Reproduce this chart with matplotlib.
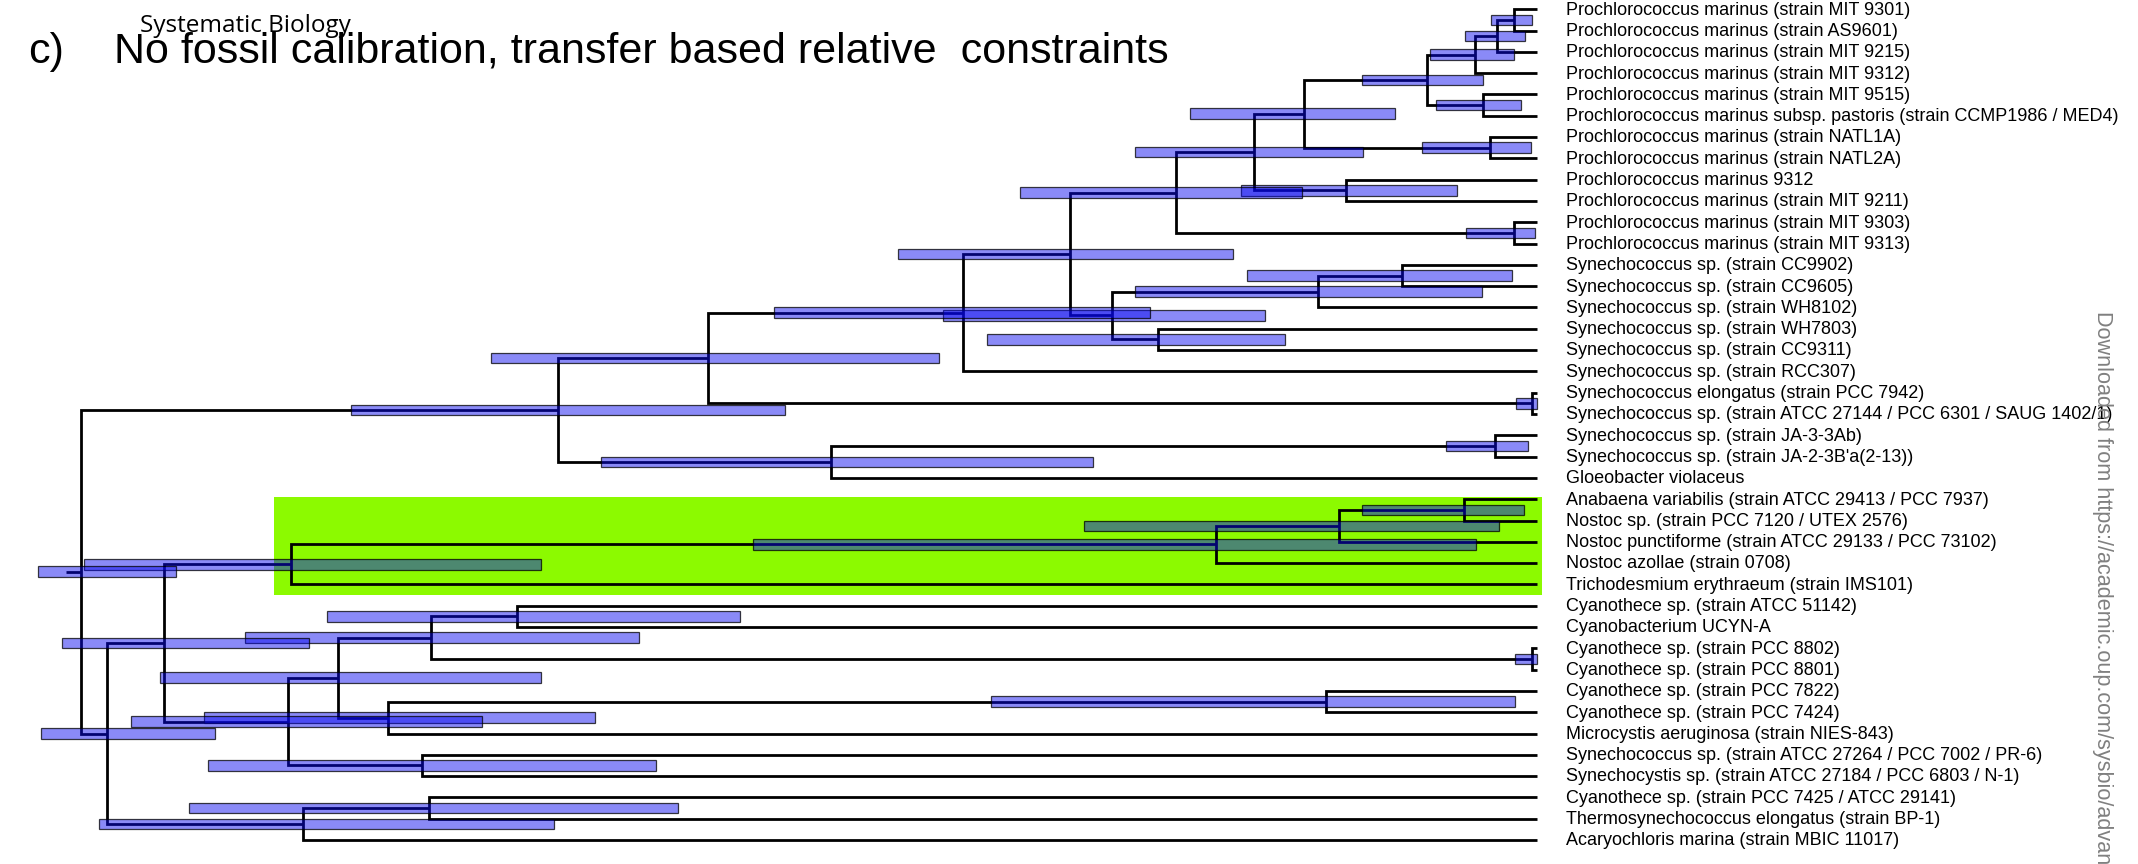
import matplotlib

matplotlib.use("Agg")
import matplotlib.pyplot as plt
from matplotlib.patches import Rectangle

# tip labels, top to bottom
tips = [
    "Prochlorococcus marinus (strain MIT 9301)",
    "Prochlorococcus marinus (strain AS9601)",
    "Prochlorococcus marinus (strain MIT 9215)",
    "Prochlorococcus marinus (strain MIT 9312)",
    "Prochlorococcus marinus (strain MIT 9515)",
    "Prochlorococcus marinus subsp. pastoris (strain CCMP1986 / MED4)",
    "Prochlorococcus marinus (strain NATL1A)",
    "Prochlorococcus marinus (strain NATL2A)",
    "Prochlorococcus marinus 9312",
    "Prochlorococcus marinus (strain MIT 9211)",
    "Prochlorococcus marinus (strain MIT 9303)",
    "Prochlorococcus marinus (strain MIT 9313)",
    "Synechococcus sp. (strain CC9902)",
    "Synechococcus sp. (strain CC9605)",
    "Synechococcus sp. (strain WH8102)",
    "Synechococcus sp. (strain WH7803)",
    "Synechococcus sp. (strain CC9311)",
    "Synechococcus sp. (strain RCC307)",
    "Synechococcus elongatus (strain PCC 7942)",
    "Synechococcus sp. (strain ATCC 27144 / PCC 6301 / SAUG 1402/1)",
    "Synechococcus sp. (strain JA-3-3Ab)",
    "Synechococcus sp. (strain JA-2-3B'a(2-13))",
    "Gloeobacter violaceus",
    "Anabaena variabilis (strain ATCC 29413 / PCC 7937)",
    "Nostoc sp. (strain PCC 7120 / UTEX 2576)",
    "Nostoc punctiforme (strain ATCC 29133 / PCC 73102)",
    "Nostoc azollae (strain 0708)",
    "Trichodesmium erythraeum (strain IMS101)",
    "Cyanothece sp. (strain ATCC 51142)",
    "Cyanobacterium UCYN-A",
    "Cyanothece sp. (strain PCC 8802)",
    "Cyanothece sp. (strain PCC 8801)",
    "Cyanothece sp. (strain PCC 7822)",
    "Cyanothece sp. (strain PCC 7424)",
    "Microcystis aeruginosa (strain NIES-843)",
    "Synechococcus sp. (strain ATCC 27264 / PCC 7002 / PR-6)",
    "Synechocystis sp. (strain ATCC 27184 / PCC 6803 / N-1)",
    "Cyanothece sp. (strain PCC 7425 / ATCC 29141)",
    "Thermosynechococcus elongatus (strain BP-1)",
    "Acaryochloris marina (strain MBIC 11017)",
]

# internal nodes, children first; ints are tip indices, strings are nodes
node_names = ["A", "B", "C", "D", "E", "F", "G", "H", "I", "J", "K",
              "O", "P", "S", "Q", "L", "N", "Y", "T", "X", "W", "V",
              "HH", "GG", "FF", "DD", "NN", "OO", "LL", "JJ", "II", "KK",
              "MM", "EE", "BB", "PP", "CC", "AA", "Z"]
node_children = [(0, 1), ("A", 2), ("B", 3), (4, 5), ("C", "D"), (6, 7), ("E", "F"),
                 (8, 9), ("G", "H"), (10, 11), ("I", "J"),
                 (12, 13), ("O", 14), (15, 16), ("P", "S"), ("K", "Q"), ("L", 17), (18, 19),
                 ("N", "Y"), (20, 21), ("X", 22), ("T", "W"),
                 (23, 24), ("HH", 25), ("GG", 26), ("FF", 27), (28, 29), (30, 31),
                 ("NN", "OO"), (32, 33), ("JJ", 34), ("LL", "II"),
                 (35, 36), ("KK", "MM"), ("DD", "EE"), (37, 38), ("PP", 39),
                 ("BB", "CC"), ("V", "AA")]
# node ages (tips = 0) and interval bounds, same units
node_age = [23, 40, 62, 54, 110, 47, 233, 191, 283, 23, 361,
            135, 219, 379, 425, 467, 574, 5, 829, 42, 706, 979,
            73, 198, 321, 1246, 1020, 5, 1106, 211, 1149, 1199,
            1115, 1249, 1373, 1108, 1234, 1430, 1456]
node_lo = [5, 12, 23, 16, 54, 6, 142, 80, 174, 2, 235,
           25, 55, 252, 272, 304, 387, 0, 598, 9, 444, 752,
           13, 38, 61, 996, 797, 0, 898, 22, 942, 996,
           881, 1055, 1228, 859, 983, 1322, 1361]
node_hi = [46, 72, 107, 101, 175, 115, 347, 296, 402, 71, 517,
           290, 402, 550, 594, 639, 763, 21, 1046, 91, 936, 1186,
           175, 453, 784, 1453, 1210, 22, 1292, 546, 1333, 1377,
           1329, 1406, 1475, 1348, 1438, 1496, 1499]
root_stem_age = 1471

# highlighted clade (ages, tip-row span)
clade_age = (1263, -5)
clade_rows = (22.9, 27.48)

title_tag = "c)"
title = "No fossil calibration, transfer based relative  constraints"
journal = "Systematic Biology"
side_note = "Downloaded from https://academic.oup.com/sysbio/advance-article"

W, H = 2138, 864
TIP_PX, ROW0_PX, ROW_PX = 1537, 9.3, 21.3

fig = plt.figure(figsize=(W / 100, H / 100), dpi=100)
ax = fig.add_axes([0, 0, 1, 1])
ax.set_xlim(-TIP_PX, W - TIP_PX)
ax.set_ylim((H - ROW0_PX) / ROW_PX, -ROW0_PX / ROW_PX)
ax.axis("off")

pos = {}
for i in range(len(tips)):
    pos[i] = (0.0, float(i))
for name, (c1, c2), age in zip(node_names, node_children, node_age):
    pos[name] = (-age, (pos[c1][1] + pos[c2][1]) / 2)

ax.add_patch(Rectangle((-clade_age[0], clade_rows[0]), clade_age[0] - clade_age[1],
                       clade_rows[1] - clade_rows[0], facecolor="#8cfa00",
                       edgecolor="none", zorder=0))

line_kw = dict(color="black", linewidth=2.0, solid_joinstyle="miter",
               solid_capstyle="butt", zorder=2)
for name, (c1, c2) in zip(node_names, node_children):
    x, _ = pos[name]
    x1, y1 = pos[c1]
    x2, y2 = pos[c2]
    ax.plot([x1, x, x, x2], [y1, y1, y2, y2], **line_kw)
zx, zy = pos["Z"]
ax.plot([-root_stem_age, zx], [zy, zy], **line_kw)

for name, lo, hi in zip(node_names, node_lo, node_hi):
    ax.add_patch(Rectangle((-hi, pos[name][1] - 0.25), hi - lo, 0.5,
                           facecolor=(0.03, 0.03, 0.94, 0.47),
                           edgecolor=(0, 0, 0, 0.75), linewidth=0.9, zorder=3))

for i, label in enumerate(tips):
    ax.text(29, i + 0.25, label, fontsize=13, family="Liberation Sans",
            va="baseline", ha="left")

fig.text(27.7 / W, 1 - 63 / H, title_tag, fontsize=31, family="Liberation Sans",
         va="baseline")
fig.text(113.8 / W, 1 - 63 / H, title, fontsize=31, family="Liberation Sans",
         va="baseline")
fig.text(140 / W, 1 - 31.5 / H, journal, fontsize=17.5, family="Open Sans",
         va="baseline")
fig.text(2102 / W, 1 - 311 / H, side_note, fontsize=15.6, family="Liberation Sans",
         color="#808080", rotation=-90, ha="center", va="top")

fig.savefig("out.png", dpi=100)
